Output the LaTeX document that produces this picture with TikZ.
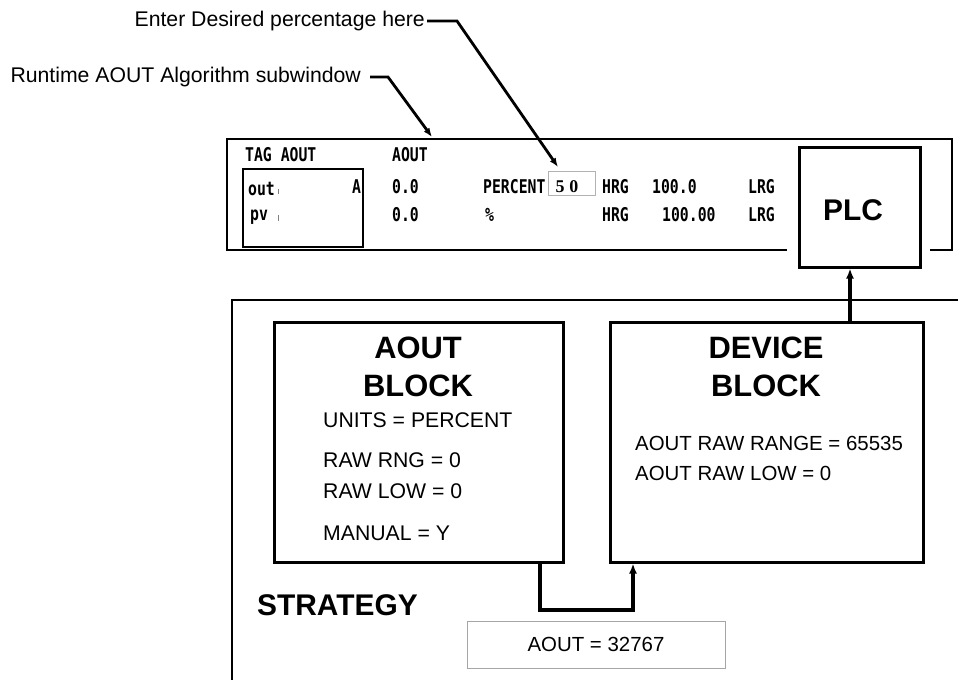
\documentclass[tikz,border=0pt]{standalone}
\usepackage{fontspec}
\setmainfont{Liberation Sans}
\newfontfamily\termfont{DejaVu Sans Mono}[FakeStretch=0.78]
\newfontfamily\serifb{Liberation Serif}
\usetikzlibrary{arrows.meta}
\tikzset{
  blk/.style={draw, line width=3bp, inner sep=0pt},
  titletxt/.style={font=\bfseries\fontsize{31}{31}\selectfont, inner sep=0pt, anchor=base},
  txt/.style={font=\fontsize{20.5}{20.5}\selectfont, inner sep=0pt, anchor=base west},
  bigtxt/.style={txt, font=\fontsize{21.3}{21.3}\selectfont},
  term/.style={font=\termfont\bfseries\fontsize{19}{19}\selectfont, inner sep=0pt, anchor=base west},
  conn/.style={line width=3.5bp, -{Latex[length=10bp,width=8bp]}},
  callout/.style={line width=2.8bp, -{Latex[length=9bp,width=7bp]}},
  frame/.style={line width=2bp},
  tick/.style={gray, line width=0.8bp}
}
\begin{document}
\begin{tikzpicture}[x=1bp,y=-1bp]
\useasboundingbox (0,0) rectangle (958,680);
% callouts
\node[bigtxt, anchor=east] (enter) at (425,21) {Enter Desired percentage here};
\node[bigtxt, anchor=east] (runtime) at (361,77) {Runtime AOUT Algorithm subwindow};
\coordinate (t1) at (558,167);
\coordinate (t2) at (432,137);
% runtime window
\node[blk, minimum width=121bp, minimum height=119bp] (plc) at (859.5,207.5) {};
\node[titletxt, font=\bfseries\fontsize{30}{30}\selectfont] (plclbl) at (853,220) {PLC};
\draw[frame] ([xshift=-11bp]plc.west |- 0,250) -- (227,250) -- (227,139) -- (952,139) -- (952,250) -- ([xshift=8bp]plc.east |- 0,250);
\draw[callout] ([xshift=2bp]enter.east) -- ++(30,0) -- (t1);
\draw[callout] ([xshift=9bp]runtime.east) -- ++(18,0) -- (t2);
\node[draw, line width=1.5bp, minimum width=120bp, minimum height=78bp, inner sep=0pt] (tagbox) at (303,208) {};
\draw[line width=1.5bp] ([yshift=-1.5bp]tagbox.south west) -- ([yshift=-1.5bp]tagbox.south east);
\node[term] (tagaout) at (245,162) {TAG AOUT};
\node[term] (hdr) at (392,162) {AOUT};
\node[term] (out) at (248,195) {out};
\node[term] (amode) at (352,193) {A};
\node[term] (v1) at (392,193) {0.0};
\node[term] (pctlbl) at (483,193) {PERCENT};
\node[draw=gray!60, line width=1bp, minimum width=47bp, minimum height=23bp, inner sep=0pt] (pct) at (571.5,183.5) {};
\node[font=\serifb\bfseries\fontsize{18}{18}\selectfont, inner sep=0pt, anchor=base] (pctval) at (567,192) {5\hspace{5bp}0};
\node[term] (hrg1) at (602,193) {HRG};
\node[term] (hv1) at (652,193) {100.0};
\node[term] (lrg1) at (748,193) {LRG};
\node[term] (pv) at (250,220) {pv};
\node[term] (v2) at (392,221) {0.0};
\node[term] (unit) at (485,221) {\%};
\node[term] (hrg2) at (602,221) {HRG};
\node[term] (hv2) at (662,221) {100.00};
\node[term] (lrg2) at (748,221) {LRG};
\draw[tick] (278,189) -- (278,194);
\draw[tick] (278,215) -- (278,221);
% strategy
\draw[frame] (958,300) -- (232,300) -- (232,682);
\node[blk, minimum width=289bp, minimum height=240bp] (aout) at (418.5,442) {};
\node[blk, minimum width=313bp, minimum height=240bp] (dev) at (766.5,442) {};
\node[titletxt] (at1) at (418,358) {AOUT};
\node[titletxt] (at2) at (418,396) {BLOCK};
\node[titletxt] (dt1) at (766,358) {DEVICE};
\node[titletxt] (dt2) at (766,396) {BLOCK};
\node[bigtxt] (units) at (323,427) {UNITS = PERCENT};
\node[bigtxt] (rawrng) at (323,467) {RAW RNG = 0};
\node[bigtxt] (rawlow) at (323,498) {RAW LOW = 0};
\node[bigtxt] (manual) at (323,540) {MANUAL = Y};
\node[txt] (drng) at (635,450) {AOUT RAW RANGE = 65535};
\node[txt] (dlow) at (635,480) {AOUT RAW LOW = 0};
\node[titletxt, anchor=base west, font=\bfseries\fontsize{30}{30}\selectfont] (strat) at (257,615) {STRATEGY};
\node[draw=gray!70, line width=1bp, minimum width=258bp, minimum height=47bp, inner sep=0pt, font=\fontsize{20.5}{20.5}\selectfont] (val) at (596,644.5) {AOUT = 32767};
% connectors
\coordinate (j1) at (540,610);
\coordinate (j2) at (633,610);
\draw[conn] (aout.south -| j1) -- (j1) -- (j2) -- (dev.south -| j2);
\coordinate (px) at (850,0);
\draw[conn] (dev.north -| px) -- (plc.south -| px);
\end{tikzpicture}
\end{document}
